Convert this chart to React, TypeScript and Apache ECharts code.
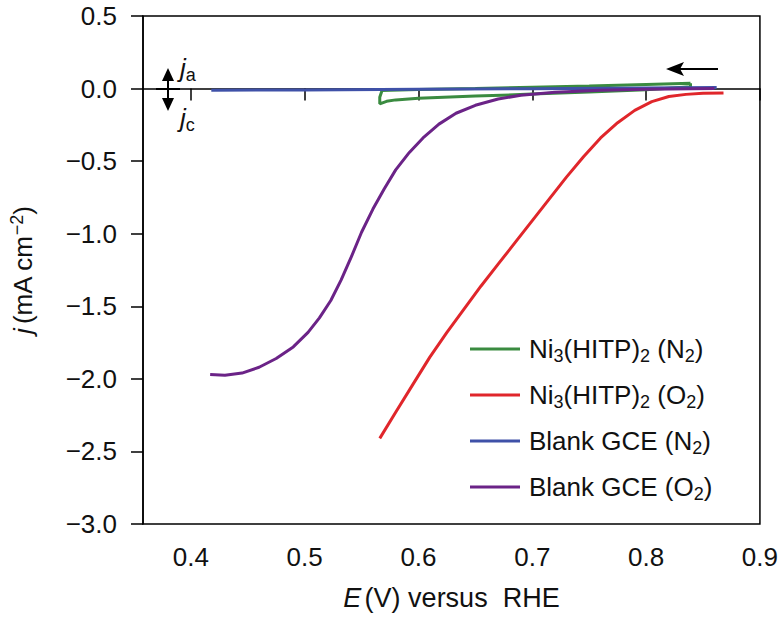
import React, { useEffect, useRef } from "react";
import * as echarts from "echarts";

// ---- data (E in V vs RHE, j in mA cm^-2) ----
const seriesNames = [
  "Ni3(HITP)2 (N2)",
  "Ni3(HITP)2 (O2)",
  "Blank GCE (N2)",
  "Blank GCE (O2)",
];
const seriesColors = ["#3a8b40", "#e0262b", "#3f51a8", "#6b2387"];

const niN2: [number, number][] = [
  [0.839, 0.036], [0.8, 0.028], [0.75, 0.018], [0.7, 0.009], [0.65, 0.0],
  [0.6, -0.007], [0.575, -0.011], [0.568, -0.014], [0.566, -0.06],
  [0.566, -0.105], [0.572, -0.088], [0.58, -0.078], [0.6, -0.067],
  [0.65, -0.052], [0.7, -0.038], [0.75, -0.024], [0.8, -0.008], [0.839, 0.012],
  [0.839, 0.036],
];
const niO2: [number, number][] = [
  [0.566, -2.41], [0.58, -2.23], [0.595, -2.04], [0.61, -1.85], [0.625, -1.68],
  [0.64, -1.52], [0.655, -1.36], [0.67, -1.21], [0.685, -1.06], [0.7, -0.91],
  [0.715, -0.76], [0.73, -0.61], [0.745, -0.47], [0.76, -0.34], [0.775, -0.235],
  [0.79, -0.15], [0.805, -0.09], [0.82, -0.055], [0.835, -0.04], [0.85, -0.033],
  [0.868, -0.03],
];
const blankN2: [number, number][] = [
  [0.418, -0.012], [0.5, -0.009], [0.6, -0.005], [0.7, -0.001], [0.8, 0.004],
  [0.862, 0.007],
];
const blankO2: [number, number][] = [
  [0.417, -1.97], [0.43, -1.975], [0.445, -1.96], [0.46, -1.92], [0.475, -1.86],
  [0.49, -1.78], [0.503, -1.68], [0.513, -1.58], [0.523, -1.46], [0.532, -1.32],
  [0.541, -1.16], [0.55, -0.99], [0.56, -0.83], [0.57, -0.69], [0.58, -0.56],
  [0.592, -0.44], [0.604, -0.34], [0.618, -0.245], [0.633, -0.17], [0.65, -0.115],
  [0.67, -0.072], [0.69, -0.046], [0.72, -0.025], [0.76, -0.012], [0.8, -0.005],
  [0.86, 0.0],
];
const seriesData = [niN2, niO2, blankN2, blankO2];

const xMin = 0.358;
const xMax = 0.9;
const xTicks = [0.4, 0.5, 0.6, 0.7, 0.8, 0.9];
const yMin = -3.0;
const yMax = 0.5;
const yStep = 0.5;

const legendRich: Record<string, string> = {
  "Ni3(HITP)2 (N2)": "{n|Ni}{s|3}{n|(HITP)}{s|2}{n| (N}{s|2}{n|)}",
  "Ni3(HITP)2 (O2)": "{n|Ni}{s|3}{n|(HITP)}{s|2}{n| (O}{s|2}{n|)}",
  "Blank GCE (N2)": "{n|Blank GCE (N}{s|2}{n|)}",
  "Blank GCE (O2)": "{n|Blank GCE (O}{s|2}{n|)}",
};

const FONT = "'Liberation Sans', Arial, Helvetica, sans-serif";
const FS = 26;

export default function App() {
  const ref = useRef<HTMLDivElement>(null);
  useEffect(() => {
    if (!ref.current) return;
    const chart = echarts.init(ref.current, undefined, { renderer: "svg" });
    const baseRich = {
      n: { fontSize: FS, fontFamily: FONT, color: "#111", lineHeight: 32 },
      s: { fontSize: 18, fontFamily: FONT, color: "#111", lineHeight: 18, padding: [14, 0, 0, 0] },
      i: { fontSize: FS, fontFamily: FONT, color: "#111", fontStyle: "italic", lineHeight: 32 },
      p: { fontSize: 18, fontFamily: FONT, color: "#111", lineHeight: 18, padding: [0, 0, 12, 0] },
    };
    const titleRich = {
      n: { fontSize: 27, fontFamily: FONT, color: "#111", lineHeight: 32 },
      i: { fontSize: 27, fontFamily: FONT, color: "#111", fontStyle: "italic", lineHeight: 32 },
    };
    chart.setOption({
      animation: false,
      backgroundColor: "#fff",
      textStyle: { fontFamily: FONT },
      grid: {
        left: 140,
        right: 21,
        top: 16,
        bottom: 95,
        show: true,
        borderColor: "#000",
        borderWidth: 1.5,
        backgroundColor: "transparent",
      },
      xAxis: {
        type: "value",
        min: xMin,
        max: xMax,
        name: "{i|E} {n|(V) versus  RHE}",
        nameLocation: "middle",
        nameGap: 58,
        nameTextStyle: { rich: titleRich },
        axisLine: { lineStyle: { color: "#000", width: 1.5 } },
        axisTick: { show: true, inside: false, length: 12, customValues: xTicks, lineStyle: { color: "#000", width: 1.5 } },
        axisLabel: {
          customValues: xTicks,
          margin: 20,
          fontSize: FS,
          fontFamily: FONT,
          color: "#111",
          formatter: (v: number) => v.toFixed(1),
        },
        splitLine: { show: false },
      },
      yAxis: {
        type: "value",
        min: yMin,
        max: yMax,
        interval: yStep,
        name: "{i|j} {n|(mA cm}{p|−2}{n|)}",
        nameLocation: "middle",
        nameGap: 104,
        nameRotate: 90,
        nameTextStyle: { rich: baseRich },
        axisLine: { lineStyle: { color: "#000", width: 1.5 } },
        axisTick: { show: true, inside: false, length: 12, lineStyle: { color: "#000", width: 1.5 } },
        axisLabel: {
          margin: 26,
          fontSize: FS,
          fontFamily: FONT,
          color: "#111",
          formatter: (v: number) => v.toFixed(1).replace("-", "−"),
        },
        splitLine: { show: false },
      },
      legend: {
        orient: "vertical",
        left: 465,
        top: 328,
        icon: "rect",
        itemWidth: 50,
        itemHeight: 3,
        itemGap: 14,
        data: seriesNames,
        formatter: (name: string) => legendRich[name] || name,
        textStyle: { rich: baseRich, padding: [0, 0, 0, 4] },
      },
      series: seriesNames.map((name, k) => ({
        name,
        type: "line",
        data: seriesData[k],
        showSymbol: false,
        symbol: "none",
        smooth: false,
        color: seriesColors[k],
        itemStyle: { color: seriesColors[k] },
        lineStyle: { width: 3, color: seriesColors[k] },
      })),
      graphic: [
        // scan direction arrow
        { type: "line", shape: { x1: 718, y1: 69, x2: 676, y2: 69 }, style: { stroke: "#000", lineWidth: 2 } },
        { type: "polygon", shape: { points: [[666, 69], [684, 62], [680, 69], [684, 76]] }, style: { fill: "#000" } },
        // j_a / j_c double arrow
        { type: "line", shape: { x1: 168, y1: 76, x2: 168, y2: 103 }, style: { stroke: "#000", lineWidth: 2 } },
        { type: "polygon", shape: { points: [[168, 68], [162, 81], [174, 81]] }, style: { fill: "#000" } },
        { type: "polygon", shape: { points: [[168, 111], [162, 98], [174, 98]] }, style: { fill: "#000" } },
        { type: "line", shape: { x1: 156, y1: 89, x2: 180, y2: 89 }, style: { stroke: "#000", lineWidth: 2 } },
        {
          type: "text",
          x: 180,
          y: 52,
          style: { text: "{i|j}{s|a}", rich: baseRich, fill: "#111" },
        },
        {
          type: "text",
          x: 180,
          y: 102,
          style: { text: "{i|j}{s|c}", rich: baseRich, fill: "#111" },
        },
      ],
    });
    return () => chart.dispose();
  }, []);
  return (
    <div
      ref={ref}
      style={{ position: "fixed", left: 0, top: 0, width: 781, height: 619 }}
    />
  );
}
